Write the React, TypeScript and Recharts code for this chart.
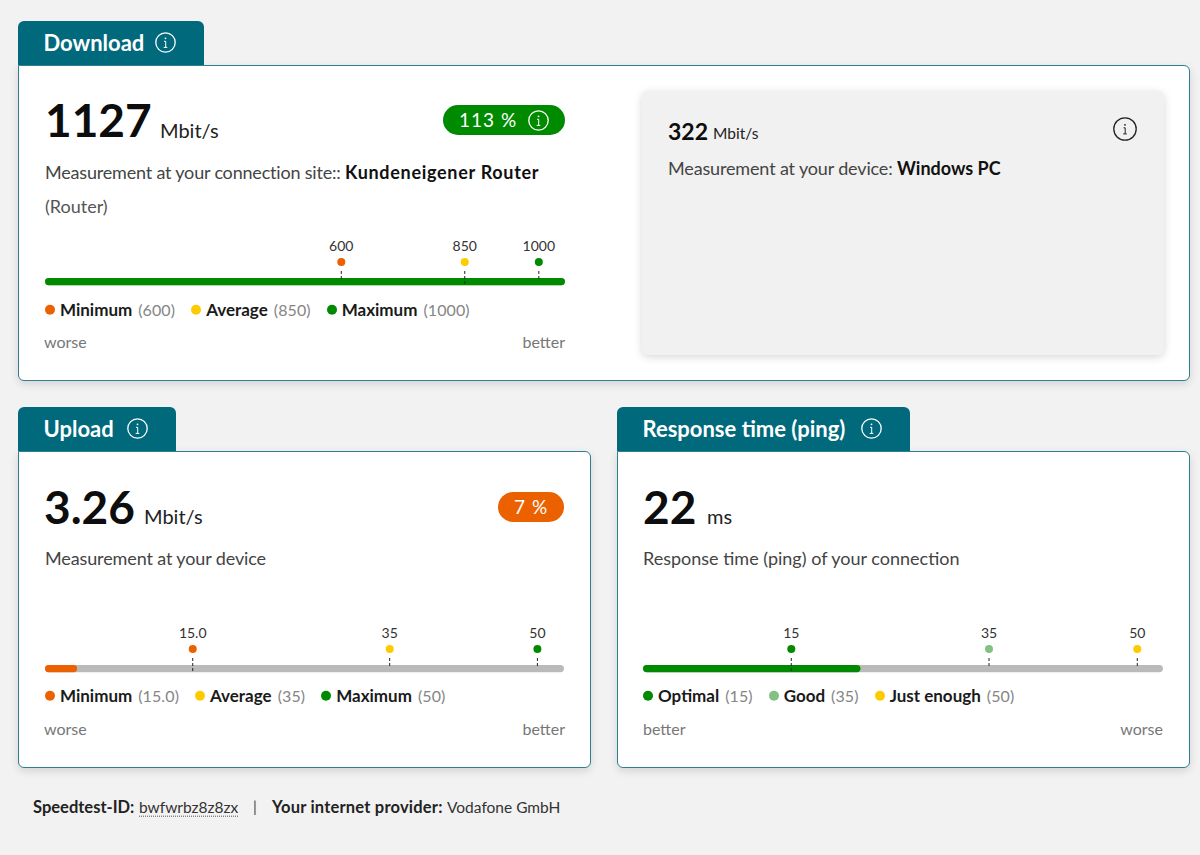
import React from 'react';
import { BarChart, Bar, XAxis, YAxis, ReferenceLine } from 'recharts';

const GREEN = '#008a00';
const ORANGE = '#eb6100';
const YELLOW = '#fecb00';
const LIGHT_GREEN = '#82c182';
const TEAL = '#00697c';
const FONT = 'Lato, "Noto Sans", sans-serif';

const downloadValue = 1127;
const downloadAxisMax = 1053;
const downloadLabels = ['Minimum', 'Average', 'Maximum'];
const downloadThresholds = [600, 850, 1000];
const downloadTickText = ['600', '850', '1000'];

const uploadValue = 3.26;
const uploadAxisMax = 52.7;
const uploadLabels = ['Minimum', 'Average', 'Maximum'];
const uploadThresholds = [15, 35, 50];
const uploadTickText = ['15.0', '35', '50'];

const pingValue = 22;
const pingAxisMax = 52.6;
const pingLabels = ['Optimal', 'Good', 'Just enough'];
const pingThresholds = [15, 35, 50];
const pingTickText = ['15', '35', '50'];

type TProps = { x?: number; r?: number; y: number; size: number; bold?: boolean; color?: string; ls?: number; children: React.ReactNode };

function T({ x, r, y, size, bold, color = '#0d0d0d', ls = 0, children }: TProps) {
  return (
    <div
      style={{
        position: 'absolute',
        left: x,
        right: r !== undefined ? 1200 - r : undefined,
        top: y,
        transform: 'translateY(-50%)',
        fontSize: size,
        fontWeight: bold ? 700 : 400,
        color,
        letterSpacing: ls,
        lineHeight: 1.2,
        whiteSpace: 'nowrap',
      }}
    >
      {children}
    </div>
  );
}

function Info({ cx, cy, color = '#fff', d = 21 }: { cx: number; cy: number; color?: string; d?: number }) {
  return (
    <svg style={{ position: 'absolute', left: cx - d / 2, top: cy - d / 2 }} width={d} height={d}>
      <circle cx={d / 2} cy={d / 2} r={d / 2 - 0.8} fill="none" stroke={color} strokeWidth={1.3} />
      <circle cx={d / 2} cy={d / 2 - 4.2} r={0.9} fill={color} />
      <path d={`M${d / 2 - 1.5} ${d / 2 - 1.2}h1.7v6M${d / 2 - 1.8} ${d / 2 + 4.9}h3.6`} fill="none" stroke={color} strokeWidth={1} />
    </svg>
  );
}

function Card({ x, y, w, h, tabW, title, iconX }: { x: number; y: number; w: number; h: number; tabW: number; title: string; iconX: number }) {
  return (
    <>
      <div
        style={{
          position: 'absolute',
          left: x,
          top: y,
          width: w,
          height: h,
          boxSizing: 'border-box',
          background: '#fff',
          border: '1px solid #2f7f90',
          borderRadius: '0 6px 6px 6px',
          boxShadow: '0 3px 8px rgba(0,0,0,0.13)',
        }}
      />
      <div
        style={{
          position: 'absolute',
          left: x,
          top: y - 44,
          width: tabW,
          height: 44,
          background: TEAL,
          borderRadius: '6px 6px 0 0',
        }}
      />
      <T x={x + 25.5} y={y - 22} size={22} bold color="#fff">
        {title}
      </T>
      <Info cx={iconX} cy={y - 23} />
    </>
  );
}

type GaugeProps = {
  x: number;
  top: number;
  w: number;
  value: number;
  axisMax: number;
  fill: string;
  thresholds: number[];
  tickText: string[];
  colors: string[];
  longTicks: number[];
};

const HEAD = 60;

function Gauge({ x, top, w, value, axisMax, fill, thresholds, tickText, colors, longTicks }: GaugeProps) {
  const data = [{ name: 'measured', value: Math.min(value, axisMax) }];
  return (
    <div style={{ position: 'absolute', left: x, top: top - HEAD }}>
      <BarChart width={w} height={HEAD + 8} layout="vertical" data={data} margin={{ top: HEAD, right: 0, bottom: 0, left: 0 }} barCategoryGap={0}>
        <XAxis type="number" hide domain={[0, axisMax]} allowDataOverflow />
        <YAxis type="category" dataKey="name" hide />
        <Bar
          dataKey="value"
          fill={fill}
          barSize={8}
          radius={4}
          isAnimationActive={false}
          background={{ fill: '#bababa', radius: 4 } as any}
        />
        {thresholds.map((t, i) => (
          <ReferenceLine
            key={t}
            x={t}
            ifOverflow="visible"
            shape={(p: any) => (
              <g>
                <text x={p.x1} y={HEAD - 27} textAnchor="middle" fontSize={14} fontFamily={FONT} fill="#333">
                  {tickText[i]}
                </text>
                <circle cx={p.x1} cy={HEAD - 16} r={4} fill={colors[i]} />
                <line
                  x1={p.x1}
                  x2={p.x1}
                  y1={HEAD - 7}
                  y2={longTicks.includes(t) ? HEAD + 7 : HEAD + 1}
                  stroke="#222"
                  strokeWidth={1}
                  strokeDasharray="3 2"
                />
              </g>
            )}
          />
        ))}
      </BarChart>
    </div>
  );
}

function Legend({ x, y, labels, values, colors }: { x: number; y: number; labels: string[]; values: string[]; colors: string[] }) {
  return (
    <div style={{ position: 'absolute', left: x, top: y, transform: 'translateY(-50%)', display: 'flex', alignItems: 'center', fontSize: 16, lineHeight: 1.2, whiteSpace: 'nowrap' }}>
      {labels.map((l, i) => (
        <div key={l} style={{ display: 'flex', alignItems: 'center', marginRight: 16 }}>
          <span style={{ width: 10, height: 10, borderRadius: 5, background: colors[i], marginRight: 5 }} />
          <span style={{ fontWeight: 700, fontSize: 17, color: '#1a1a1a', marginRight: 6 }}>{l}</span>
          <span style={{ color: '#858585', position: 'relative', top: -0.5, letterSpacing: 0.1 }}>({values[i]})</span>
        </div>
      ))}
    </div>
  );
}

export default function App() {
  const gray = '#777';
  const tri = [ORANGE, YELLOW, GREEN];
  const pingColors = [GREEN, LIGHT_GREEN, YELLOW];
  return (
    <div style={{ position: 'absolute', left: 0, top: 0, width: 1200, height: 855, overflow: 'hidden', background: '#f2f2f2', fontFamily: FONT }}>
      <Card x={18} y={65} w={1172} h={316} tabW={186} title="Download" iconX={165} />
      <Card x={18} y={451} w={573} h={317} tabW={158} title="Upload" iconX={137} />
      <Card x={617} y={451} w={573} h={317} tabW={293} title="Response time (ping)" iconX={871} />

      <T x={45} y={120} size={46} bold>{downloadValue}</T>
      <T x={160} y={130} size={20} color="#222">Mbit/s</T>
      <div style={{ position: 'absolute', left: 443, top: 105, width: 122, height: 30, borderRadius: 15, background: GREEN }} />
      <T x={459} y={120} size={19} color="#fff" ls={1}>113 %</T>
      <Info cx={538} cy={120} />
      <T x={45} y={173} size={18} color="#444" ls={-0.19}>
        Measurement at your connection site:: <b style={{ color: '#111', letterSpacing: 0.7 }}>Kundeneigener Router</b>
      </T>
      <T x={45} y={207} size={18} color="#555">(Router)</T>
      <Gauge x={45} top={278} w={520} value={downloadValue} axisMax={downloadAxisMax} fill={GREEN} thresholds={downloadThresholds} tickText={downloadTickText} colors={tri} longTicks={[850]} />
      <Legend x={45} y={310} labels={downloadLabels} values={downloadTickText} colors={tri} />
      <T x={44} y={342} size={16} color={gray}>worse</T>
      <T r={565} y={342} size={16} color={gray}>better</T>

      <div style={{ position: 'absolute', left: 642, top: 91, width: 522, height: 264, borderRadius: 6, background: '#f1f1f1', boxShadow: '0 2px 8px rgba(0,0,0,0.16)' }} />
      <T x={668} y={132} size={23} bold>322</T>
      <T x={713} y={133} size={15.5} color="#222">Mbit/s</T>
      <T x={668} y={169} size={18} color="#444" ls={-0.15}>
        Measurement at your device: <b style={{ color: '#111', letterSpacing: 0 }}>Windows PC</b>
      </T>
      <Info cx={1125} cy={129} color="#222" d={24} />

      <T x={44} y={507} size={46} bold>{uploadValue}</T>
      <T x={144} y={516} size={20} color="#222">Mbit/s</T>
      <div style={{ position: 'absolute', left: 498, top: 492, width: 66, height: 30, borderRadius: 15, background: ORANGE }} />
      <T x={514} y={507} size={19} color="#fff" ls={1}>7 %</T>
      <T x={45} y={559} size={18} color="#444" ls={-0.12}>Measurement at your device</T>
      <Gauge x={45} top={665} w={519} value={uploadValue} axisMax={uploadAxisMax} fill={ORANGE} thresholds={uploadThresholds} tickText={uploadTickText} colors={tri} longTicks={[15]} />
      <Legend x={45} y={696} labels={uploadLabels} values={uploadTickText} colors={tri} />
      <T x={44} y={729} size={16} color={gray}>worse</T>
      <T r={565} y={729} size={16} color={gray}>better</T>

      <T x={643} y={507} size={46} bold>{pingValue}</T>
      <T x={707} y={516} size={20} color="#222">ms</T>
      <T x={643} y={559} size={18} color="#444">Response time (ping) of your connection</T>
      <Gauge x={643} top={665} w={520} value={pingValue} axisMax={pingAxisMax} fill={GREEN} thresholds={pingThresholds} tickText={pingTickText} colors={pingColors} longTicks={[15]} />
      <Legend x={643} y={696} labels={pingLabels} values={pingTickText} colors={pingColors} />
      <T x={643} y={729} size={16} color={gray}>better</T>
      <T r={1163} y={729} size={16} color={gray}>worse</T>

      <T x={33} y={808} size={16.5} bold color="#222">Speedtest-ID:</T>
      <T x={139} y={807} size={15.5} color="#333">
        <span style={{ borderBottom: '1px dotted #555' }}>bwfwrbz8z8zx</span>
      </T>
      <T x={253} y={806} size={15} color="#444">|</T>
      <T x={272} y={808} size={16.5} ls={0.2} bold color="#222">Your internet provider:</T>
      <T x={447} y={807} size={15.5} color="#333">Vodafone GmbH</T>
    </div>
  );
}
